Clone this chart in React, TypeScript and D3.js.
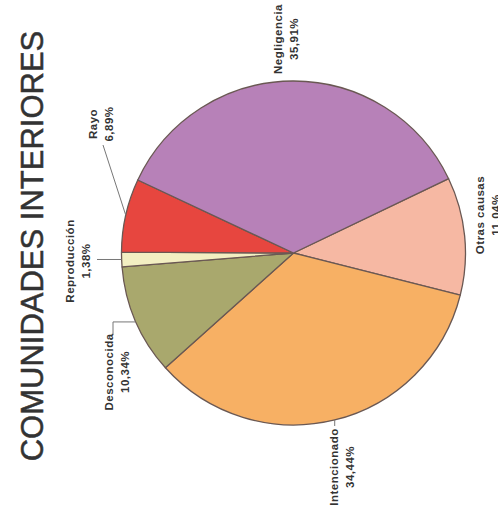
import React from "react";
import * as d3 from "d3";

const title = "COMUNIDADES INTERIORES";
const categories = ["Otras causas", "Intencionado", "Desconocida", "Reproducción", "Rayo", "Negligencia"];
const values = [11.04, 34.44, 10.34, 1.38, 6.89, 35.91];
const valueLabels = ["11,04%", "34,44%", "10,34%", "1,38%", "6,89%", "35,91%"];
const colors = ["#f6b8a3", "#f7b064", "#a9a86d", "#f3efc2", "#e7463f", "#b781b8"];

// layout (label centre in screen space, leader kind)
const labelLayout: Record<string, { cx: number; cy: number; leader?: string }> = {
  "Otras causas": { cx: 488, cy: 215 },
  Intencionado: { cx: 342, cy: 467, leader: "tick" },
  Desconocida: { cx: 117, cy: 372, leader: "bracket" },
  "Reproducción": { cx: 78, cy: 261, leader: "horizontal" },
  Rayo: { cx: 101, cy: 124, leader: "diagonal" },
  Negligencia: { cx: 286, cy: 39 },
};

const W = 498;
const H = 514;
const CX = 293.5;
const CY = 253;
const R = 172;
const START = (64.4 * Math.PI) / 180;

export default function App() {
  const pie = d3
    .pie<number>()
    .sort(null)
    .startAngle(START)
    .endAngle(START + 2 * Math.PI);
  const arcs = pie(values);
  const arc = d3.arc<d3.PieArcDatum<number>>().innerRadius(0).outerRadius(R);

  const edge = (a: number) => [CX + R * Math.sin(a), CY - R * Math.cos(a)];

  const font = "'Liberation Sans', Arial, sans-serif";
  const stroke = "#6a5853";

  return (
    <svg width={W} height={H} style={{ position: "absolute", left: 0, top: 0, background: "#fff" }}>
      <text
        transform={`translate(32,${246}) rotate(-90)`}
        textAnchor="middle"
        dy="0.36em"
        fontFamily={font}
        fontSize={31}
        fill="#333"
        stroke="#333"
        strokeWidth={0.5}
      >
        {title}
      </text>
      <g transform={`translate(${CX},${CY})`}>
        {arcs.map((a, i) => (
          <path key={i} d={arc(a) || ""} fill={colors[i]} stroke={stroke} strokeWidth={1.3} strokeLinejoin="round" />
        ))}
      </g>
      {arcs.map((a, i) => {
        const name = categories[i];
        const L = labelLayout[name];
        const mid = (a.startAngle + a.endAngle) / 2;
        const [ex, ey] = edge(mid);
        let leader: React.ReactNode = null;
        if (L.leader === "diagonal") {
          leader = <line x1={L.cx + 2} y1={L.cy + 21} x2={ex} y2={ey} stroke="#777" strokeWidth={1} />;
        } else if (L.leader === "horizontal") {
          leader = <polyline points={`${L.cx + 19},${ey} ${ex},${ey}`} fill="none" stroke="#777" strokeWidth={1} />;
        } else if (L.leader === "bracket") {
          leader = (
            <polyline
              points={`${L.cx - 4},${L.cy - 37} ${L.cx - 4},${ey + 1} ${ex},${ey + 1}`}
              fill="none"
              stroke="#777"
              strokeWidth={1}
            />
          );
        } else if (L.leader === "tick") {
          leader = <line x1={ex} y1={ey} x2={ex} y2={ey + 6} stroke="#777" strokeWidth={1} />;
        }
        return (
          <g key={name}>
            {leader}
            <text
              transform={`translate(${L.cx - 8},${L.cy}) rotate(-90)`}
              textAnchor="middle"
              dy="0.35em"
              fontFamily={font}
              fontWeight="bold"
              fontSize={11.5}
              letterSpacing={0.5}
              fill="#333"
            >
              {name}
            </text>
            <text
              transform={`translate(${L.cx + 8},${L.cy}) rotate(-90)`}
              textAnchor="middle"
              dy="0.35em"
              fontFamily={font}
              fontWeight="bold"
              fontSize={11.5}
              letterSpacing={0.5}
              fill="#333"
            >
              {valueLabels[i]}
            </text>
          </g>
        );
      })}
    </svg>
  );
}
